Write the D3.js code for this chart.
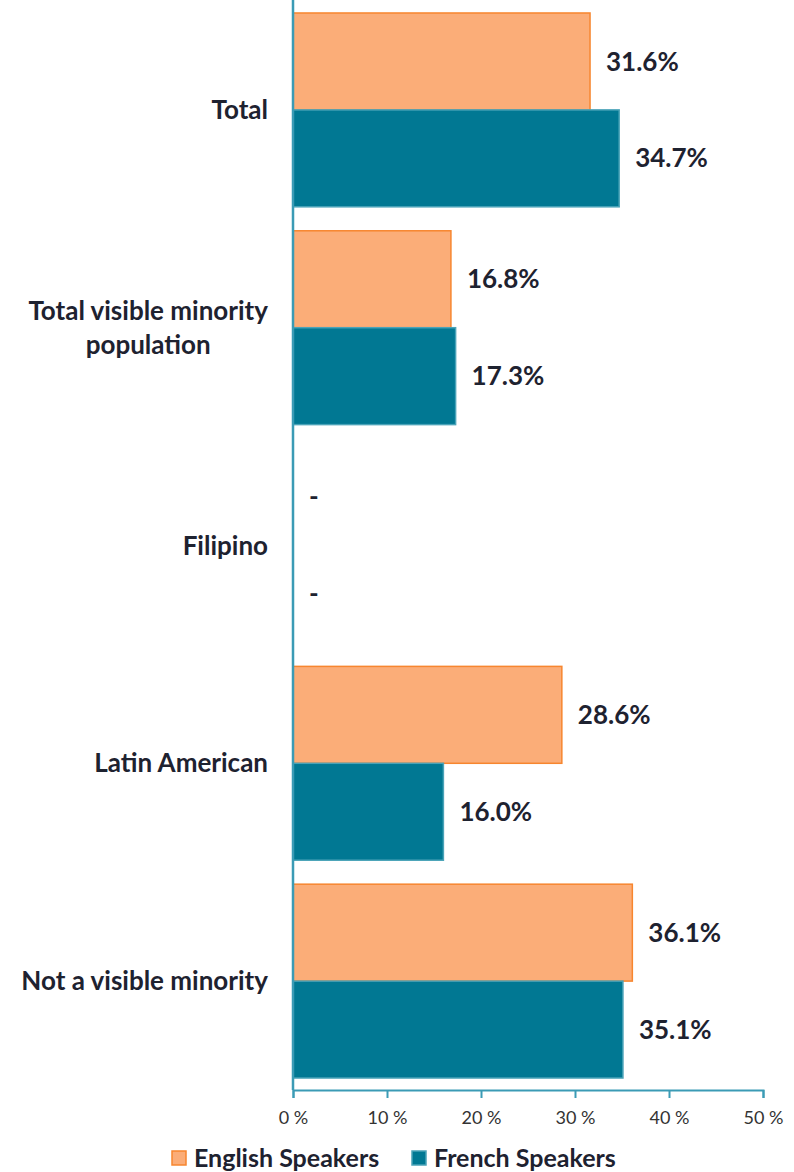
<!DOCTYPE html>
<html>
<head>
<meta charset="utf-8">
<script src="https://cdn.jsdelivr.net/npm/d3@7"></script>
<style>
  body { margin: 0; background: #fff; }
  text { font-family: Lato, "Open Sans", sans-serif; }
</style>
</head>
<body>
<div id="chart"></div>
<script>
// data
const categories = [["Total"], ["Total visible minority", "population"], ["Filipino"], ["Latin American"], ["Not a visible minority"]];
const english = [31.6, 16.8, null, 28.6, 36.1];
const french = [34.7, 17.3, null, 16.0, 35.1];
const seriesNames = ["English Speakers", "French Speakers"];
const tickValues = [0, 10, 20, 30, 40, 50];

const width = 794, height = 1172;
const plotLeft = 293, plotRight = 763, plotTop = 1, plotBottom = 1090;
const txt = "#1e2230";

const svg = d3.select("#chart").append("svg").attr("width", width).attr("height", height);

var x = d3.scaleLinear().domain([0, 50]).range([plotLeft, plotRight]);
var y = d3.scaleBand().domain(d3.range(categories.length)).range([plotTop, plotBottom]).paddingInner(0.11).paddingOuter(0.055);
var sub = d3.scaleBand().domain([0, 1]).range([0, y.bandwidth()]);

const series = [
  {name: seriesNames[0], values: english, fill: "#fbad78", stroke: "#f7862f"},
  {name: seriesNames[1], values: french, fill: "#017893", stroke: "#4aa3b8"}
];

// bars
series.forEach(function(s, si) {
  const g = svg.append("g");
  g.selectAll("rect").data(s.values.map((v, i) => ({v: v, i: i})).filter(d => d.v != null))
    .enter().append("rect")
    .attr("x", x(0))
    .attr("y", d => y(d.i) + sub(si))
    .attr("width", d => x(d.v) - x(0))
    .attr("height", sub.bandwidth())
    .attr("fill", s.fill)
    .attr("stroke", s.stroke)
    .attr("stroke-width", 1.5);
  g.selectAll("text").data(s.values.map((v, i) => ({v: v, i: i})))
    .enter().append("text")
    .attr("x", d => x(d.v == null ? 0 : d.v) + 16)
    .attr("y", d => y(d.i) + sub(si) + sub.bandwidth() / 2)
    .attr("dy", "0.35em")
    .attr("font-size", 26)
    .attr("font-weight", 700)
    .attr("fill", txt)
    .text(d => d.v == null ? "-" : d.v.toFixed(1) + "%");
});

// x axis
const xAxis = svg.append("g").attr("transform", "translate(0," + plotBottom + ")")
  .call(d3.axisBottom(x).tickValues(tickValues).tickSize(8).tickFormat(d => d + " %"));
xAxis.select(".domain").attr("stroke", "#3b9bb5").attr("stroke-width", 2);
xAxis.selectAll(".tick line").attr("stroke", "#3b9bb5").attr("stroke-width", 2);
xAxis.selectAll(".tick text").attr("font-size", 18).attr("fill", "#333").attr("dy", "1.3em")
  .style("font-family", "Lato, sans-serif");

// y axis line
svg.append("line").attr("x1", plotLeft).attr("x2", plotLeft).attr("y1", 0).attr("y2", plotBottom)
  .attr("stroke", "#3b9bb5").attr("stroke-width", 2.5);

// category labels, lines centred within a right-aligned block
categories.forEach(function(lines, i) {
  const g = svg.append("g");
  const cy = y(i) + y.bandwidth() / 2;
  const lh = 34;
  const ts = lines.map((l, j) => g.append("text")
    .attr("y", cy + (j - (lines.length - 1) / 2) * lh)
    .attr("dy", "0.35em")
    .attr("font-size", 26)
    .attr("font-weight", 700)
    .attr("fill", txt)
    .attr("text-anchor", "middle")
    .text(l));
  const w = d3.max(ts, t => t.node().getComputedTextLength());
  ts.forEach(t => t.attr("x", 268 - w / 2));
});

// legend
const legend = svg.append("g").attr("transform", "translate(0,1158)");
const legendX = [172, 412];
series.forEach(function(s, si) {
  legend.append("rect").attr("x", legendX[si]).attr("y", -7).attr("width", 14).attr("height", 14)
    .attr("fill", s.fill).attr("stroke", s.stroke).attr("stroke-width", 1.5);
  legend.append("text").attr("x", legendX[si] + 22).attr("y", 0).attr("dy", "0.35em")
    .attr("font-size", 25).attr("font-weight", 700).attr("fill", txt).text(s.name);
});
</script>
</body>
</html>
